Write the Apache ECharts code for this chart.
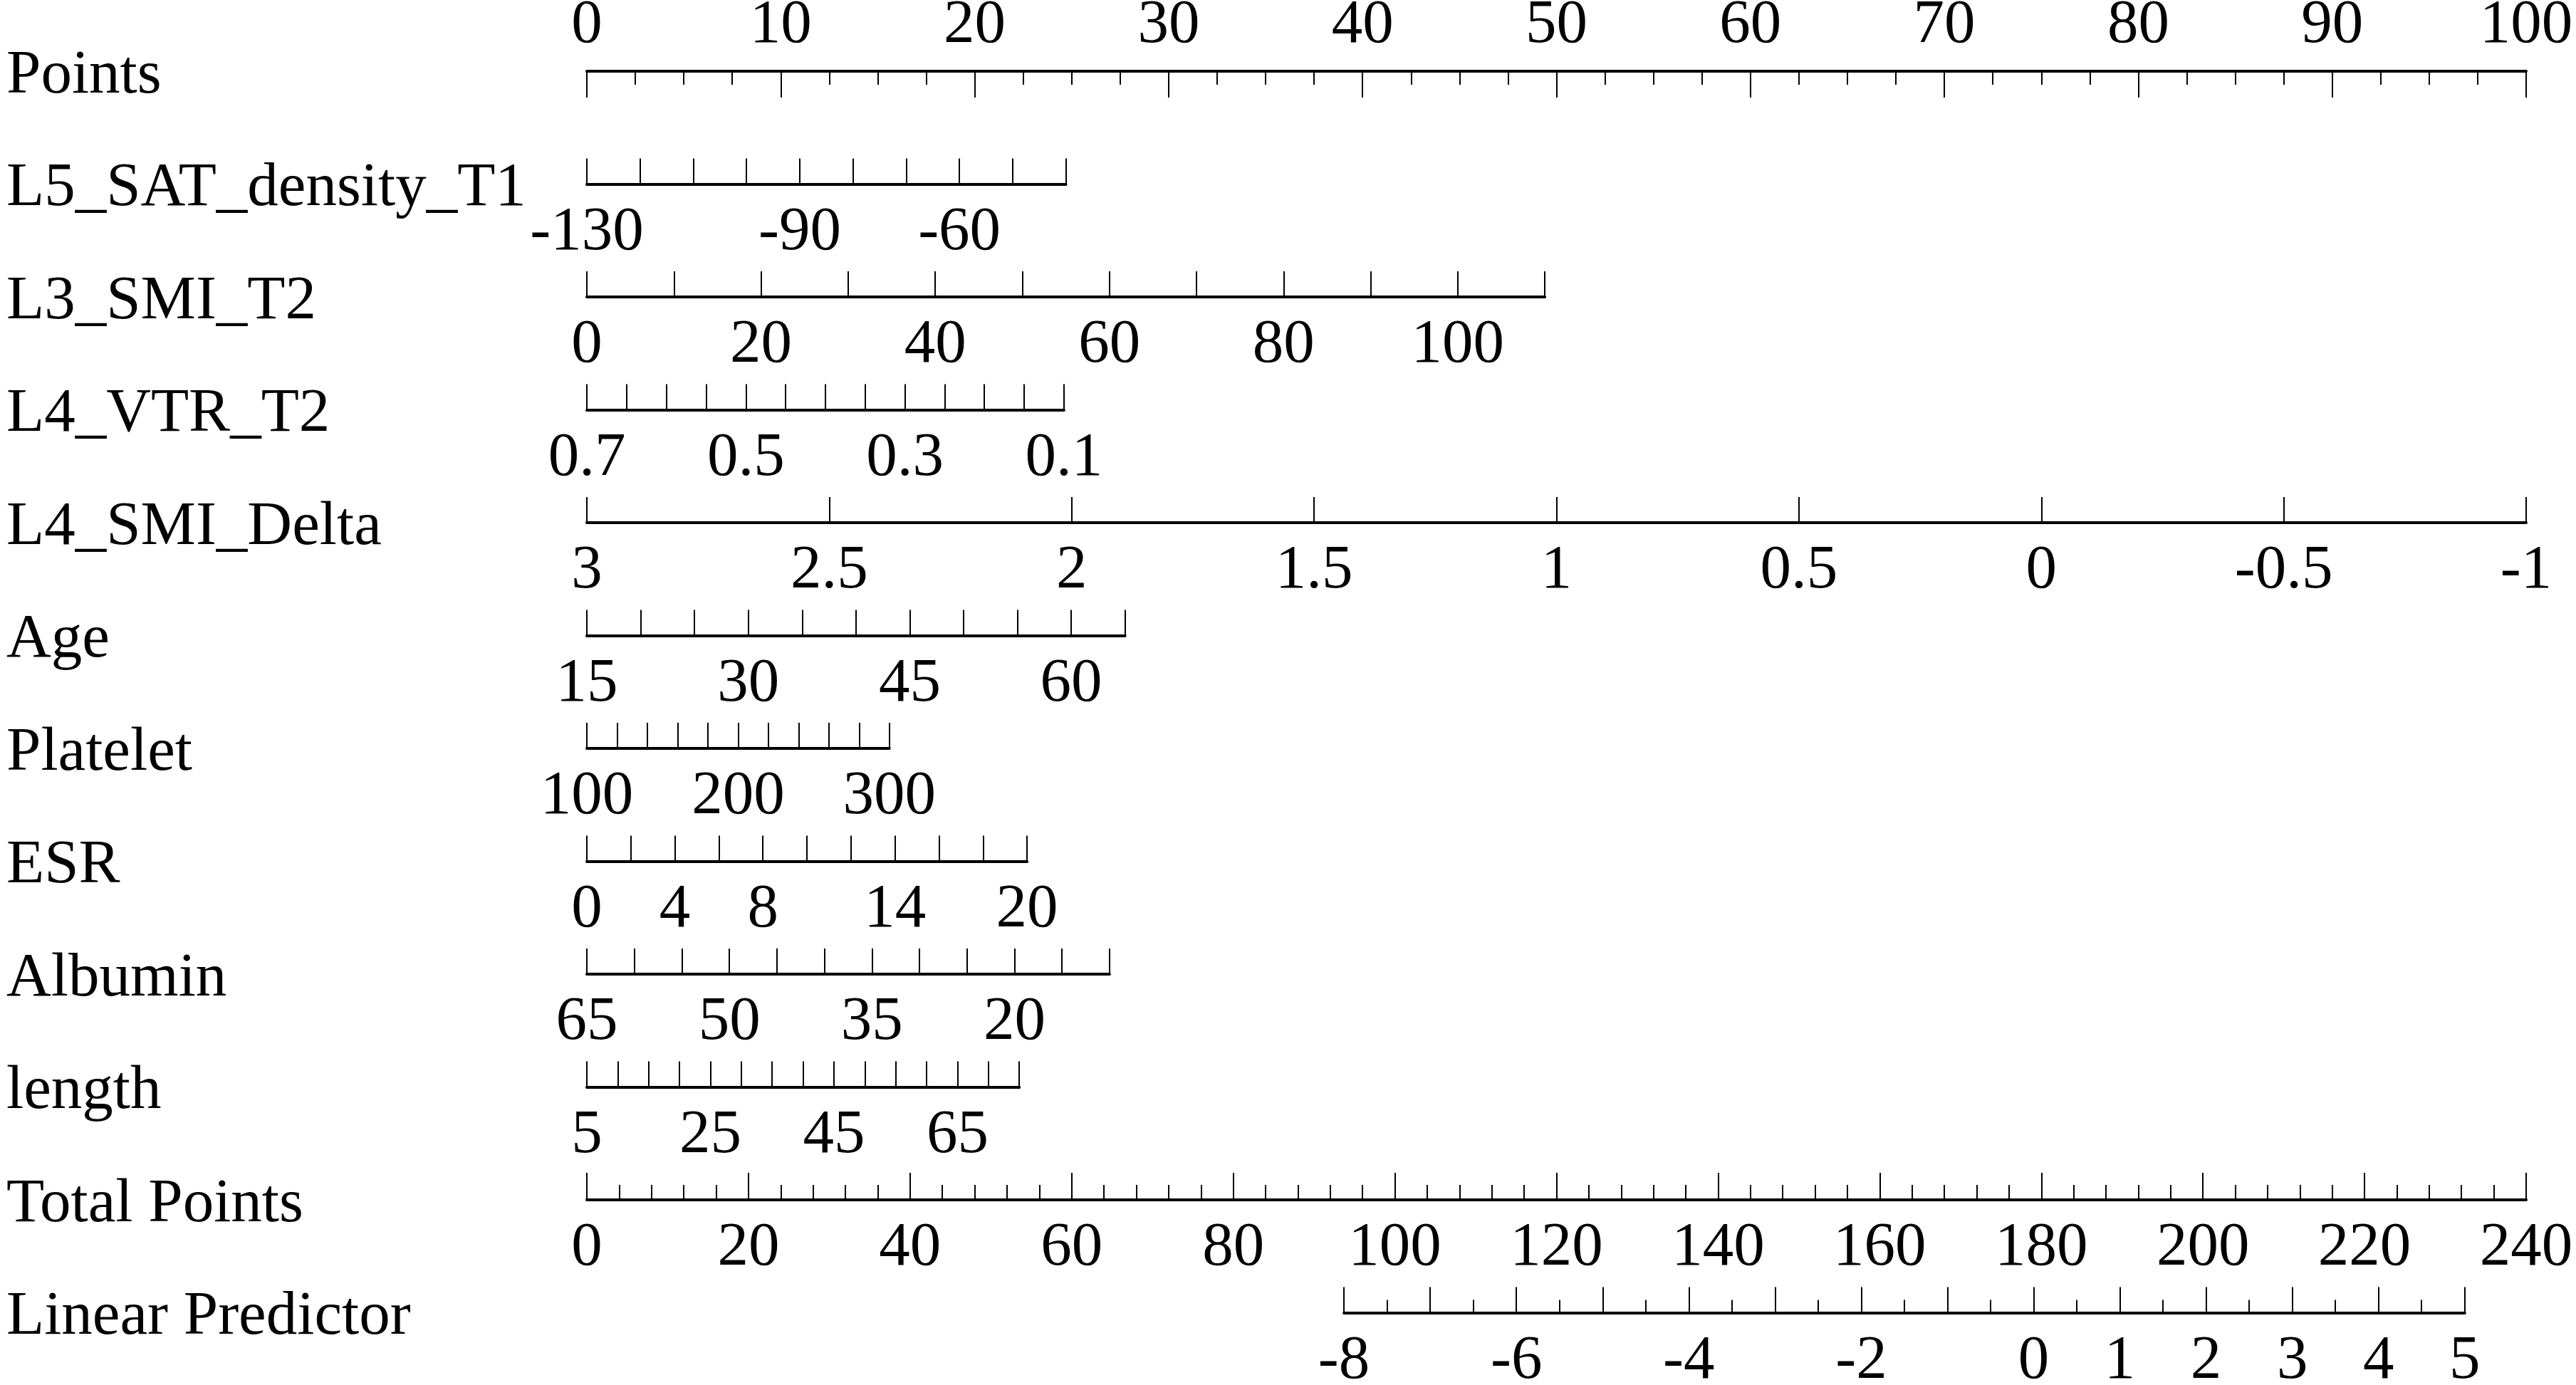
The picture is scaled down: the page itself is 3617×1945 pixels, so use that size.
<!DOCTYPE html>
<html>
<head>
<meta charset="utf-8">
<script src="https://cdn.jsdelivr.net/npm/echarts@6/dist/echarts.min.js"></script>
<style>
html,body{margin:0;padding:0;background:#fff;}
#chart{width:3617px;height:1945px;}
</style>
</head>
<body>
<div id="chart"></div>
<script>
// ---------------- data ----------------
const rowNames = ['Points','L5_SAT_density_T1','L3_SMI_T2','L4_VTR_T2','L4_SMI_Delta','Age','Platelet','ESR','Albumin','length','Total Points','Linear Predictor'];

// Points scale
const pointsRange = [0, 100];
const pointsStep = 10;
const pointsLabels = [0,10,20,30,40,50,60,70,80,90,100];

// predictors: value range (first = 0 points end), tick step, shown labels, points at the two ends
const satRange = [-130, -40];  const satStep = 10;  const satLabels = [-130,-90,-60];            const satPoints = [0, 24.7];
const smiT2Range = [0, 110];   const smiT2Step = 10; const smiT2Labels = [0,20,40,60,80,100];   const smiT2Points = [0, 49.4];
const vtrRange = [0.7, 0.1];   const vtrStep = 0.05; const vtrLabels = [0.7,0.5,0.3,0.1];        const vtrPoints = [0, 24.6];
const smiDeltaRange = [3, -1]; const smiDeltaStep = 0.5; const smiDeltaLabels = [3,2.5,2,1.5,1,0.5,0,-0.5,-1]; const smiDeltaPoints = [0, 100];
const ageRange = [15, 65];     const ageStep = 5;   const ageLabels = [15,30,45,60];             const agePoints = [0, 27.75];
const plateletRange = [100, 300]; const plateletStep = 20; const plateletLabels = [100,200,300]; const plateletPoints = [0, 15.6];
const esrRange = [0, 20];      const esrStep = 2;   const esrLabels = [0,4,8,14,20];             const esrPoints = [0, 22.7];
const albuminRange = [65, 10]; const albuminStep = 5; const albuminLabels = [65,50,35,20];       const albuminPoints = [0, 26.95];
const lengthRange = [5, 75];   const lengthStep = 5; const lengthLabels = [5,25,45,65];          const lengthPoints = [0, 22.3];

// Total points
const totalRange = [0, 240];
const totalStep = 20;
const totalLabels = [0,20,40,60,80,100,120,140,160,180,200,220,240];

// Linear predictor, with the total points at its two ends
const lpRange = [-8, 5];
const lpStep = 1;
const lpLabels = [-8,-6,-4,-2,0,1,2,3,4,5];
const lpTotalPoints = [93.7, 232.4];

// ---------------- layout ----------------
const plotLeft = 824, plotWidth = 2723;
const firstRowY = 100, rowGap = 158.5;
const FONT = '"Liberation Serif", "Times New Roman", serif';
const FS = 87;

const chart = echarts.init(document.getElementById('chart'), null, {renderer: 'canvas'});

const grids = [], xAxes = [], yAxes = [], graphics = [];

function fmt(labels){
  return function(v){
    for (const l of labels) { if (Math.abs(v - l) < 1e-9) return String(l); }
    return '';
  };
}

function addRow(idx, range, step, labels, leftPx, widthPx, opts){
  const y = firstRowY + idx * rowGap;
  const top = opts.position === 'top';
  grids.push({
    left: leftPx, width: widthPx,
    top: top ? y : y - 10, height: 10,
    containLabel: false, outerBoundsMode: 'none', show: false
  });
  const gi = grids.length - 1;
  const inverse = range[0] > range[1];
  xAxes.push({
    type: 'value', gridIndex: gi, position: opts.position,
    min: Math.min(range[0], range[1]), max: Math.max(range[0], range[1]),
    interval: step, inverse: inverse,
    splitLine: {show: false},
    axisLine: {show: true, onZero: false, lineStyle: {color: '#000', width: 4}},
    axisTick: {show: true, inside: true, length: opts.tickLen || 36, lineStyle: {color: '#000', width: 2}},
    minorTick: opts.minor ? {show: true, splitNumber: opts.minor, length: opts.minorLen, lineStyle: {color: '#000', width: 2}} : {show: false},
    minorSplitLine: {show: false},
    axisLabel: {
      show: true, inside: false, margin: opts.margin, color: '#000',
      fontFamily: FONT, fontSize: FS, formatter: fmt(labels),
      showMinLabel: true, showMaxLabel: true, hideOverlap: false
    }
  });
  yAxes.push({type: 'value', gridIndex: gi, show: false, min: 0, max: 1});
}

function ptsLeft(p){ return plotLeft + p / 100 * plotWidth; }
function ptsWidth(p){ return (p[1] - p[0]) / 100 * plotWidth; }

addRow(0, pointsRange, pointsStep, pointsLabels, plotLeft, plotWidth, {position: 'top', tickLen: 37, minor: 4, minorLen: 19, margin: 20});

const predictors = [
  [satRange, satStep, satLabels, satPoints],
  [smiT2Range, smiT2Step, smiT2Labels, smiT2Points],
  [vtrRange, vtrStep, vtrLabels, vtrPoints],
  [smiDeltaRange, smiDeltaStep, smiDeltaLabels, smiDeltaPoints],
  [ageRange, ageStep, ageLabels, agePoints],
  [plateletRange, plateletStep, plateletLabels, plateletPoints],
  [esrRange, esrStep, esrLabels, esrPoints],
  [albuminRange, albuminStep, albuminLabels, albuminPoints],
  [lengthRange, lengthStep, lengthLabels, lengthPoints]
];
predictors.forEach(function(p, i){
  addRow(i + 1, p[0], p[1], p[2], ptsLeft(p[3][0]), ptsWidth(p[3]), {position: 'bottom', tickLen: 36, margin: 25});
});

addRow(10, totalRange, totalStep, totalLabels, plotLeft, plotWidth, {position: 'bottom', tickLen: 38, minor: 5, minorLen: 21, margin: 25});

const lpLeft = plotLeft + lpTotalPoints[0] / 240 * plotWidth;
const lpWidth = (lpTotalPoints[1] - lpTotalPoints[0]) / 240 * plotWidth;
addRow(11, lpRange, lpStep, lpLabels, lpLeft, lpWidth, {position: 'bottom', tickLen: 36, minor: 2, minorLen: 18, margin: 25});

rowNames.forEach(function(name, i){
  graphics.push({
    type: 'text', left: 9, top: firstRowY + i * rowGap - FS / 2 + 7,
    style: {text: name, font: FS + 'px ' + FONT, fill: '#000', textVerticalAlign: 'top'}
  });
});

chart.setOption({
  animation: false,
  backgroundColor: '#fff',
  grid: grids,
  xAxis: xAxes,
  yAxis: yAxes,
  graphic: graphics,
  series: []
});
</script>
</body>
</html>
